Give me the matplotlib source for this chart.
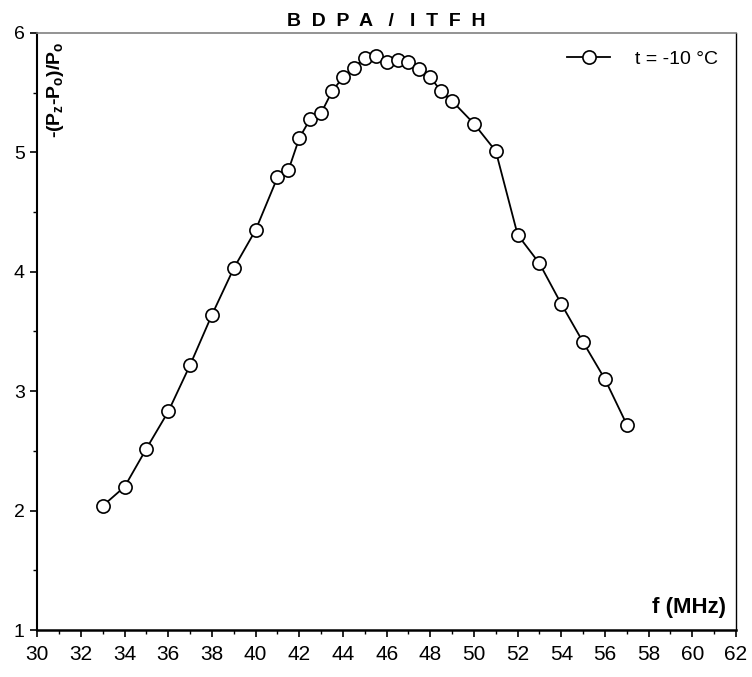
import matplotlib
matplotlib.use('Agg')
import matplotlib.pyplot as plt
from matplotlib.ticker import MultipleLocator

plt.rcParams['font.family'] = ['Liberation Sans', 'DejaVu Sans']
plt.rcParams['mathtext.fontset'] = 'custom'
plt.rcParams['mathtext.rm'] = 'Liberation Sans:bold'
plt.rcParams['mathtext.it'] = 'Liberation Sans:bold'
plt.rcParams['mathtext.bf'] = 'Liberation Sans:bold'

# frequency (MHz) and signal enhancement
freq = [33, 34, 35, 36, 37, 38, 39, 40, 41, 41.5, 42, 42.5, 43, 43.5, 44, 44.5,
        45, 45.5, 46, 46.5, 47, 47.5, 48, 48.5, 49, 50, 51, 52, 53, 54, 55, 56, 57]
enh = [2.04, 2.20, 2.52, 2.83, 3.22, 3.64, 4.03, 4.35, 4.79, 4.85, 5.12, 5.28,
       5.33, 5.51, 5.63, 5.71, 5.79, 5.81, 5.76, 5.77, 5.76, 5.70, 5.63, 5.51,
       5.43, 5.24, 5.01, 4.31, 4.07, 3.73, 3.41, 3.10, 2.72]

xticks = list(range(30, 63, 2))
yticks = [1, 2, 3, 4, 5, 6]

fig = plt.figure(figsize=(7.52, 6.77), dpi=100)
ax = fig.add_axes([0.0496, 0.0694, 0.9291, 0.8819])

ax.plot(freq, enh, color='black', lw=1.3, marker='o', markersize=9.5,
        markerfacecolor='white', markeredgecolor='black', markeredgewidth=1.2,
        label='t = -10 °C')

ax.set_xlim(30, 62)
ax.set_ylim(1, 6)
ax.set_xticks(xticks)
ax.set_yticks(yticks)
ax.xaxis.set_minor_locator(MultipleLocator(1))
ax.yaxis.set_minor_locator(MultipleLocator(0.5))
ax.tick_params(axis='x', which='major', direction='out', length=5, width=1.2,
               labelsize=15, pad=6)
ax.tick_params(axis='y', which='major', direction='out', length=5, width=1.2,
               labelsize=14, pad=4)
ax.tick_params(which='minor', direction='out', length=3, width=1)

ax.spines['left'].set_linewidth(1.5)
ax.spines['bottom'].set_linewidth(1.8)
ax.spines['top'].set_color('#808080')
ax.spines['top'].set_linewidth(1.2)
ax.spines['right'].set_linewidth(1.0)

ax.set_title('B  D  P  A   /   I  T  F  H', fontsize=14, fontweight='bold', pad=5)

ax.text(0.026, 0.985, r'$\text{-}(P_z\text{-}P_o)/P_o$', transform=ax.transAxes,
        rotation=90, ha='center', va='top', fontsize=14)
ax.text(0.985, 0.02, 'f (MHz)', transform=ax.transAxes, ha='right', va='bottom',
        fontsize=16, fontweight='bold')

ax.legend(loc='upper right', frameon=False, fontsize=14, handlelength=2.2,
          handletextpad=1.3, borderaxespad=0.5)

plt.savefig('out.png', dpi=100)
